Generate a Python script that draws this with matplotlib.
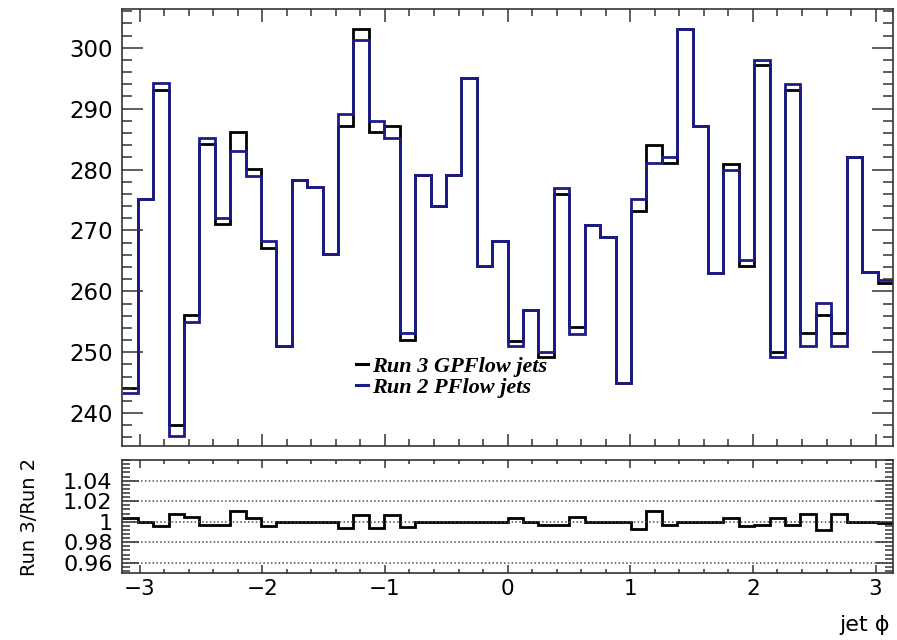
import numpy as np
import matplotlib
matplotlib.use("Agg")
import matplotlib.pyplot as plt
from matplotlib.ticker import MultipleLocator, FixedLocator, FuncFormatter

# jet phi histogram, 50 bins from -pi to pi
n_bins = 50
phi_lo, phi_hi = -np.pi, np.pi

run3_gpflow = [244.2, 275.1, 293.1, 238.0, 256.1, 284.2, 271.0, 286.1, 280.1, 267.1,
               251.1, 278.2, 277.1, 266.2, 287.2, 303.1, 286.1, 287.2, 252.0, 279.1,
               274.0, 279.1, 295.0, 264.1, 268.2, 251.9, 257.0, 249.2, 276.0, 254.1,
               270.9, 269.0, 244.9, 273.2, 284.1, 281.1, 303.1, 287.2, 263.0, 280.9,
               264.1, 297.1, 250.1, 293.1, 253.1, 256.1, 253.1, 282.1, 263.1, 261.4]

run2_pflow = [243.3, 275.1, 294.2, 236.2, 255.0, 285.2, 272.0, 283.1, 279.0, 268.2,
              251.1, 278.2, 277.1, 266.2, 289.1, 301.2, 288.0, 285.2, 253.2, 279.1,
              274.0, 279.1, 295.0, 264.1, 268.2, 251.0, 257.0, 250.1, 277.0, 253.0,
              270.9, 269.0, 244.9, 275.1, 281.1, 282.1, 303.1, 287.2, 263.0, 279.9,
              265.1, 298.0, 249.2, 294.1, 251.1, 258.1, 251.1, 282.1, 263.1, 261.8]

ratio_ticks = [0.96, 0.98, 1.0, 1.02, 1.04]

edges = np.linspace(phi_lo, phi_hi, n_bins + 1)
run3 = np.array(run3_gpflow)
run2 = np.array(run2_pflow)
ratio = run3 / run2

navy = "#1c1c88"
frame = "#333333"

plt.rcParams["font.family"] = ["DejaVu Sans"]
plt.rcParams["axes.edgecolor"] = frame
plt.rcParams["axes.linewidth"] = 1.2

fig = plt.figure(figsize=(8.97, 6.40), dpi=100)
ax = fig.add_axes([0.1363, 0.3031, 0.8592, 0.6823])
ax2 = fig.add_axes([0.1363, 0.1047, 0.8592, 0.1766])

# Main panel
ax.stairs(run3, edges, color="black", lw=2.0, baseline=None, label="Run 3 GPFlow jets")
ax.stairs(run2, edges, color=navy, lw=2.0, baseline=None, label="Run 2 PFlow jets")
ax.set_xlim(phi_lo, phi_hi)
ax.set_ylim(234.6, 306.3)
ax.xaxis.set_major_locator(MultipleLocator(1))
ax.xaxis.set_minor_locator(MultipleLocator(0.2))
ax.yaxis.set_major_locator(MultipleLocator(10))
ax.yaxis.set_minor_locator(MultipleLocator(2))
ax.tick_params(which="both", direction="in", top=True, right=True,
               labelbottom=False, color=frame, width=1.1)
ax.tick_params(axis="x", which="major", length=9)
ax.tick_params(axis="x", which="minor", length=5)
ax.tick_params(axis="y", which="major", length=15, labelsize=16.5, pad=7)
ax.tick_params(axis="y", which="minor", length=7)

leg = ax.legend(loc="upper left", bbox_to_anchor=(0.303, 0.205), frameon=False,
                handlelength=0.55, handletextpad=0.2, labelspacing=0.0,
                borderpad=0, borderaxespad=0,
                prop={"family": "Liberation Serif", "weight": "bold",
                      "style": "italic", "size": 16})
for h in leg.legend_handles:
    h.set_linewidth(2.2)

# Ratio panel
ax2.stairs(ratio, edges, color="black", lw=2.0, baseline=None)
ax2.set_xlim(phi_lo, phi_hi)
ax2.set_ylim(0.95, 1.0602)
ax2.yaxis.set_major_locator(FixedLocator(ratio_ticks))
ax2.yaxis.set_minor_locator(MultipleLocator(0.004))
ax2.yaxis.set_major_formatter(FuncFormatter(lambda v, p: f"{v:g}"))
ax2.xaxis.set_major_locator(MultipleLocator(1))
ax2.xaxis.set_minor_locator(MultipleLocator(0.2))
ax2.yaxis.grid(True, which="major", ls=(0, (1, 1.5)), color="0.3", lw=1.1)
ax2.tick_params(which="both", direction="in", top=True, right=True, color=frame, width=1.1)
ax2.tick_params(axis="x", which="major", length=6, labelsize=15.5, pad=4)
ax2.tick_params(axis="x", which="minor", length=3)
ax2.tick_params(axis="y", which="major", length=12, labelsize=16, pad=7)
ax2.tick_params(axis="y", which="minor", length=6)

ax2.set_ylabel("Run 3/Run 2", fontsize=14)
ax2.yaxis.set_label_coords(-0.108, 0.5)
ax2.set_xlabel("jet ϕ", fontsize=16, ha="right", va="center")
ax2.xaxis.set_label_coords(0.996, -0.46)

fig.savefig("out.png", dpi=100)
